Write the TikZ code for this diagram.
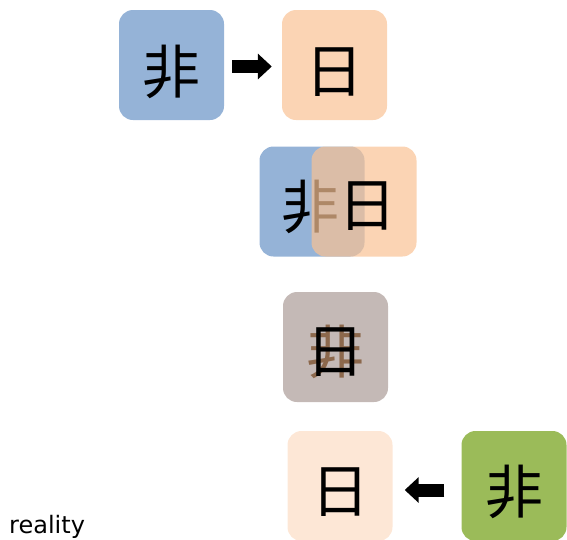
\documentclass[tikz,border=0pt]{standalone}
\usepackage{fontspec}
\newfontfamily\cjk{Noto Sans CJK JP}
\newfontfamily\latinfont{DejaVu Sans}
\usetikzlibrary{arrows.meta}
\definecolor{tileblue}{RGB}{149,179,215}
\definecolor{tilepeach}{RGB}{251,212,180}
\definecolor{tilepeachglass}{RGB}{249,194,148}
\definecolor{tilemix}{RGB}{196,185,182}
\definecolor{tilepale}{RGB}{253,231,214}
\definecolor{tilegreen}{RGB}{155,187,89}
\definecolor{inkbrown}{RGB}{140,104,76}
\tikzset{
  tile/.style={minimum width=105pt, minimum height=110pt, inner sep=0pt,
               rounded corners=14pt, draw=none},
  glyph/.style={font=\cjk\fontsize{58}{58}\selectfont, inner sep=0pt},
  blockarrow/.style={line width=13pt, line cap=butt,
                     -{Triangle[length=14pt,width=25pt]}}
}
\begin{document}
\begin{tikzpicture}[x=1pt,y=-1pt]
  \useasboundingbox (0,0) rectangle (567,539);

  % first row: the two tiles side by side
  \node[tile, fill=tileblue]  (b1) at (171.5,65) {};
  \node[tile, fill=tilepeach] (p1) at (334.5,65) {};
  \node[glyph] (tb1) at ([yshift=-7pt]b1.center) {非};
  \node[glyph] (tp1) at ([yshift=-7pt]p1.center) {日};
  \draw[blockarrow, shorten <=8pt, shorten >=10pt]
    ([yshift=-1.5pt]b1.east) -- ([yshift=-1.5pt]p1.west);

  % second row: the tiles slide over one another
  \node[tile, fill=tileblue] (b2) at (312,201.5) {};
  \node[glyph] (tb2) at ([xshift=-2pt,yshift=-5pt]b2.center) {非};
  \node[tile, fill=tilepeachglass, fill opacity=0.7] (p2) at (364,201.5) {};
  \node[glyph] (tp2) at ([xshift=3pt,yshift=-5pt]p2.center) {日};

  % third row: fully merged tile
  \node[tile, fill=tilemix] (m3) at (335.5,347) {};
  \node[glyph, text=inkbrown] (tb3) at ([yshift=-5pt]m3.center) {非};
  \node[glyph] (tp3) at ([yshift=-5pt]m3.center) {日};

  % fourth row: the result and its source
  \node[tile, fill=tilepale]  (p4) at (340,486) {};
  \node[tile, fill=tilegreen] (g4) at (514,486) {};
  \node[glyph] (tp4) at ([yshift=-6pt]p4.center) {日};
  \node[glyph] (tg4) at ([yshift=-6pt]g4.center) {非};
  \draw[blockarrow, shorten <=17pt, shorten >=12pt]
    ([yshift=-4pt]g4.west) -- ([yshift=-4pt]p4.east);

  \node[font=\latinfont\fontsize{24}{24}\selectfont, anchor=base west, inner sep=0pt]
    (caption) at (9,533) {reality};
\end{tikzpicture}
\end{document}
